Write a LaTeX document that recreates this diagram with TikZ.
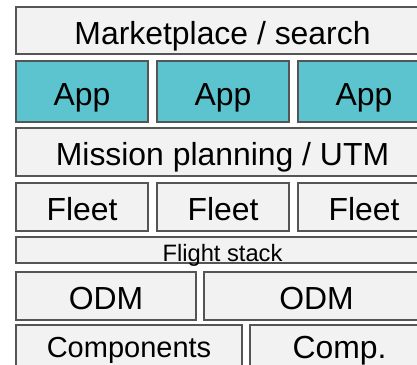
\documentclass[tikz,border=0pt]{standalone}
\usepackage{fontspec}
\setmainfont{Liberation Sans}
\definecolor{edge}{HTML}{555555}
\definecolor{boxfill}{HTML}{F2F2F2}
\definecolor{teal}{HTML}{5BC4CE}
\begin{document}
\begin{tikzpicture}[x=1pt,y=-1pt,
  layer/.style={draw=edge,fill=boxfill,line width=1.5pt,outer sep=0pt,inner sep=0pt,anchor=north west,
    font=\fontsize{31.9}{36}\selectfont,text height=27.8pt,text depth=0pt},
  smalltext/.style={font=\fontsize{23.7}{26}\selectfont,text height=22pt},
  midtext/.style={font=\fontsize{29}{33}\selectfont,text height=16.8pt},
  bottomtext/.style={text height=18.3pt},
  appbox/.style={layer,fill=teal}]
\useasboundingbox (0,0) rectangle (417,364);
\begin{scope}
\clip (0,0) rectangle (417,364);
\node[layer,minimum width=413pt,minimum height=47pt] (mkt) at (16,7) {Marketplace / search};
\node[appbox,minimum width=132pt,minimum height=61pt] (app1) at (16,61) {App};
\node[appbox,minimum width=132pt,minimum height=61pt] (app2) at (157,61) {App};
\node[appbox,minimum width=132pt,minimum height=61pt] (app3) at (298,61) {App};
\node[layer,minimum width=413pt,minimum height=48pt] (mission) at (16,128) {Mission planning / UTM};
\node[layer,minimum width=132pt,minimum height=48pt] (fleet1) at (16,183) {Fleet};
\node[layer,minimum width=132pt,minimum height=48pt] (fleet2) at (157,183) {Fleet};
\node[layer,minimum width=132pt,minimum height=48pt] (fleet3) at (298,183) {Fleet};
\node[layer,smalltext,minimum width=413pt,minimum height=26pt] (flight) at (16,237) {Flight stack};
\node[layer,minimum width=180pt,minimum height=48pt] (odm1) at (16,272) {ODM};
\node[layer,minimum width=225pt,minimum height=48pt] (odm2) at (204,272) {ODM};
\node[layer,midtext,minimum width=226pt,minimum height=48pt] (comp1) at (16,325) {Components};
\node[layer,bottomtext,minimum width=179pt,minimum height=48pt] (comp2) at (250,325) {Comp.};
\end{scope}
\end{tikzpicture}
\end{document}
